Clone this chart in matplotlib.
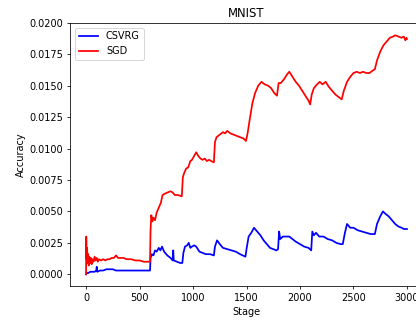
import numpy as np
import matplotlib
matplotlib.use('Agg')
import matplotlib.pyplot as plt

# SGD curve
sgd_stage = [0, 2, 6, 10, 15, 20, 25, 30, 38, 45, 52, 60, 70, 80, 90, 100, 110, 120, 140, 160,
             180, 200, 220, 240, 260, 280, 300, 320, 350, 380, 420, 460, 500, 540, 580, 598,
             603, 610, 620, 630, 645, 660, 680, 700, 715, 735, 760, 790, 810, 830, 860, 895,
             905, 915, 935, 955, 975, 990, 1010, 1030, 1050, 1070, 1090, 1110, 1130, 1150, 1170, 1195,
             1205, 1220, 1250, 1280, 1300, 1320, 1350, 1380, 1410, 1440, 1470, 1495,
             1510, 1530, 1555, 1580, 1610, 1640, 1670, 1700, 1730, 1760, 1785,
             1800, 1820, 1850, 1880, 1900, 1930, 1960, 1990, 2020, 2050, 2080, 2095,
             2110, 2130, 2160, 2185, 2210, 2240, 2270, 2300, 2330, 2360, 2390,
             2410, 2440, 2470, 2500, 2530, 2560, 2590, 2620, 2650, 2680, 2700,
             2720, 2750, 2780, 2810, 2840, 2870, 2890, 2920, 2950, 2970, 2985, 2995, 3000]
sgd_acc = [0.0000, 0.0030, 0.0012, 0.0021, 0.0009, 0.0016, 0.0007, 0.0014, 0.0009, 0.0013, 0.0008, 0.0012,
           0.0010, 0.0014, 0.0011, 0.0013, 0.0010, 0.0012, 0.0011, 0.0012,
           0.0011, 0.0012, 0.0012, 0.0013, 0.0013, 0.0015, 0.0013, 0.0013, 0.0013, 0.0012, 0.0012, 0.0011,
           0.0011, 0.0010, 0.0010, 0.0010,
           0.0035, 0.0047, 0.0042, 0.0045, 0.0043, 0.0049, 0.0053, 0.0057, 0.0063, 0.0064, 0.0065, 0.0066,
           0.0065, 0.0063, 0.0063, 0.0062,
           0.0077, 0.0080, 0.0084, 0.0085, 0.0090, 0.0091, 0.0094, 0.0097, 0.0094, 0.0092, 0.0091, 0.0092,
           0.0090, 0.0091, 0.0090, 0.0089,
           0.0105, 0.0109, 0.0111, 0.0113, 0.0112, 0.0114, 0.0112, 0.0111, 0.0110, 0.0109, 0.0108, 0.0106,
           0.0112, 0.0123, 0.0136, 0.0144, 0.0150, 0.0153, 0.0151, 0.0150, 0.0148, 0.0144, 0.0142,
           0.0152, 0.0152, 0.0155, 0.0159, 0.0161, 0.0157, 0.0153, 0.0150, 0.0146, 0.0142, 0.0138, 0.0135,
           0.0143, 0.0148, 0.0151, 0.0153, 0.0151, 0.0153, 0.0149, 0.0146, 0.0143, 0.0141, 0.0139,
           0.0146, 0.0153, 0.0157, 0.0160, 0.0161, 0.0160, 0.0161, 0.0160, 0.0160, 0.0162, 0.0163,
           0.0170, 0.0177, 0.0182, 0.0185, 0.0188, 0.0189, 0.0190, 0.0189, 0.0188, 0.0189, 0.0186, 0.0188, 0.0187]

# CSVRG curve
csvrg_stage = [0, 5, 20, 40, 60, 80, 95, 100, 105, 130, 160, 190, 220, 250, 280, 320, 360, 400, 450, 500,
               550, 598,
               603, 615, 630, 645, 660, 680, 695, 710, 730, 760, 790, 810, 815, 820, 850, 880, 900,
               910, 925, 945, 960, 975, 990, 1010, 1030, 1060, 1090, 1120, 1160, 1195,
               1205, 1225, 1250, 1280, 1320, 1360, 1400, 1440, 1490,
               1500, 1520, 1545, 1570, 1600, 1630, 1660, 1690, 1720, 1750, 1780, 1795,
               1805, 1815, 1840, 1870, 1900, 1930, 1960, 2000, 2040, 2080, 2105,
               2115, 2130, 2150, 2180, 2220, 2260, 2300, 2340, 2380, 2400,
               2420, 2440, 2470, 2500, 2540, 2580, 2620, 2660, 2700,
               2720, 2750, 2775, 2800, 2830, 2860, 2890, 2920, 2950, 2970, 3000]
csvrg_acc = [0.0000, 0.0001, 0.0001, 0.0002, 0.0002, 0.0002, 0.0003, 0.0006, 0.0002, 0.0003, 0.0003, 0.0004,
             0.0004, 0.0004, 0.0003, 0.0003, 0.0003, 0.0003, 0.0003, 0.0003, 0.0003, 0.0003,
             0.0013, 0.0016, 0.0015, 0.0019, 0.0018, 0.0021, 0.0019, 0.0022, 0.0018, 0.0015, 0.0013, 0.0011,
             0.0019, 0.0011, 0.0010, 0.0009, 0.0009,
             0.0017, 0.0022, 0.0023, 0.0025, 0.0021, 0.0022, 0.0023, 0.0022, 0.0018, 0.0017, 0.0016, 0.0016, 0.0015,
             0.0022, 0.0027, 0.0024, 0.0021, 0.0020, 0.0019, 0.0018, 0.0016, 0.0014,
             0.0020, 0.0030, 0.0033, 0.0037, 0.0034, 0.0031, 0.0027, 0.0024, 0.0021, 0.0020, 0.0019, 0.0020,
             0.0034, 0.0028, 0.0030, 0.0030, 0.0030, 0.0028, 0.0026, 0.0024, 0.0022, 0.0021, 0.0019,
             0.0034, 0.0031, 0.0033, 0.0030, 0.0030, 0.0028, 0.0027, 0.0025, 0.0024, 0.0024,
             0.0033, 0.0040, 0.0037, 0.0037, 0.0035, 0.0034, 0.0033, 0.0032, 0.0032,
             0.0040, 0.0046, 0.0050, 0.0048, 0.0046, 0.0043, 0.0040, 0.0038, 0.0037, 0.0036, 0.0036]

dpi = 70
fig = plt.figure(figsize=(416/dpi, 320/dpi), dpi=dpi)
ax = fig.add_axes([70/416, 34/320, 353/416, 263.3/320])
ax.plot(csvrg_stage, csvrg_acc, color='blue', lw=1.8, label='CSVRG')
ax.plot(sgd_stage, sgd_acc, color='red', lw=1.8, label='SGD')
ax.set_xlim(-150, 3150)
ax.set_ylim(-0.00093, 0.0200)
ax.set_yticks(np.arange(0, 0.02001, 0.0025))
ax.set_xlabel('Stage')
ax.set_ylabel('Accuracy')
ax.set_title('MNIST')
ax.legend(loc='upper left')
fig.savefig('out.png', dpi=dpi)
